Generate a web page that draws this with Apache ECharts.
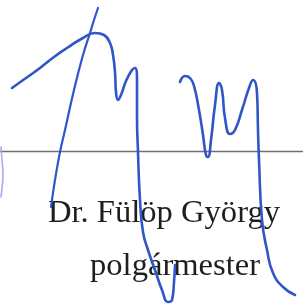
<!DOCTYPE html>
<html>
<head>
<meta charset="utf-8">
<style>
  html, body { margin: 0; padding: 0; background: #fff; }
  #chart { width: 303px; height: 306px; }
</style>
<script src="https://cdn.jsdelivr.net/npm/echarts@6/dist/echarts.min.js"></script>
</head>
<body>
<div id="chart"></div>
<script>
// signature strokes, [x, y] in picture units (y grows downward)
const strokeHook = [[12, 88], [26, 78], [40, 68], [54, 57], [67, 48], [83, 38], [95, 33], [104, 35], [110, 43], [113, 55], [115, 72], [116, 92], [118, 100], [121, 95], [126, 81], [132, 70], [135, 68], [137, 80], [137, 115], [138, 152], [140, 200], [143, 232], [148, 250], [155, 270], [162, 290], [168, 302], [172, 300], [174, 282], [175, 265]];
const strokeSlash = [[98, 8], [94, 20], [90, 33], [83, 55], [74, 90], [65, 130], [60, 152], [55, 180], [52, 200], [51, 207]];
const strokeM = [[180, 82], [185, 76], [190, 78], [194, 86], [199, 110], [203, 135], [206, 155], [208, 157], [211, 140], [215, 105], [219, 83], [222, 90], [225, 118], [230, 134], [235, 130], [242, 110], [249, 88], [253, 80], [257, 93], [258, 130], [259, 160], [262, 220], [267, 250], [273, 273], [283, 287], [295, 295]];
const strokeEdge = [[1, 147], [2, 160], [3, 175], [2, 188], [1, 197]];
const ruleLine = [[0, 151.5], [303, 151.5]];
const nameLines = ['Dr. Fülöp György', 'polgármester'];

const chart = echarts.init(document.getElementById('chart'));

const pen = (data, color, width) => ({
  type: 'line',
  data,
  smooth: 0.5,
  showSymbol: false,
  silent: true,
  lineStyle: { color, width, cap: 'round', join: 'round' },
});

const option = {
  animation: false,
  backgroundColor: '#ffffff',
  grid: { left: 0, right: 0, top: 0, bottom: 0 },
  xAxis: { type: 'value', min: 0, max: 303, show: false },
  yAxis: { type: 'value', min: 0, max: 306, inverse: true, show: false },
  graphic: [
    {
      type: 'text',
      left: 48,
      top: 197,
      z: 1,
      style: { text: nameLines[0], font: '32.6px "Liberation Serif"', fill: '#1e1e1e' },
    },
    {
      type: 'text',
      left: 90,
      top: 250,
      z: 1,
      style: { text: nameLines[1], font: '32.6px "Liberation Serif"', fill: '#1e1e1e' },
    },
  ],
  series: [
    { ...pen(ruleLine, '#707070', 1.6), smooth: false, z: 1 },
    { ...pen(strokeEdge, '#b3a6ea', 1.6), z: 3 },
    { ...pen(strokeHook, '#2f56c9', 2.6), z: 3 },
    { ...pen(strokeSlash, '#2f56c9', 2.2), z: 3 },
    { ...pen(strokeM, '#2f56c9', 2.6), z: 3 },
  ],
};

chart.setOption(option);
</script>
</body>
</html>
